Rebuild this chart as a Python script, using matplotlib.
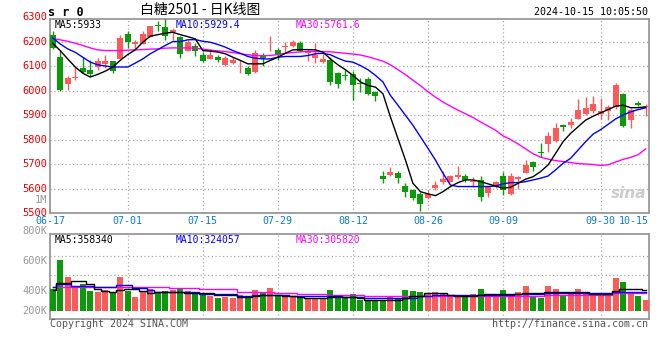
import matplotlib
matplotlib.use("Agg")
import matplotlib.pyplot as plt
import pandas as pd

# trading days shown (80 sessions)
holidays = ["2024-09-16", "2024-09-17", "2024-10-01", "2024-10-02", "2024-10-03",
            "2024-10-04", "2024-10-07"]
days = pd.bdate_range("2024-06-17", "2024-10-15")
days = days[~days.isin(pd.to_datetime(holidays))]
tick_idx = [0, 10, 20, 30, 40, 50, 60, 73, 79]

opens = [6227, 6136, 6028, 6050, 6091, 6083, 6098, 6109, 6120, 6129,
         6231, 6190, 6190, 6220, 6269, 6261, 6238, 6220, 6163, 6181,
         6147, 6128, 6136, 6105, 6113, 6103, 6093, 6075, 6140, 6172,
         6166, 6178, 6182, 6193, 6155, 6133, 6116, 6125, 6071, 6064,
         6066, 6030, 6046, 5994, 5651, 5654, 5665, 5611, 5594, 5578,
         5560, 5601, 5625, 5628, 5648, 5651, 5626, 5635, 5580, 5608,
         5651, 5578, 5637, 5665, 5709, 5750, 5780, 5795, 5859, 5859,
         5885, 5906, 5915, 5906, 5915, 5933, 5985, 5881, 5949, 5932]
highs = [6242, 6162, 6058, 6098, 6136, 6123, 6133, 6147, 6122, 6227,
         6242, 6207, 6242, 6265, 6283, 6292, 6255, 6222, 6208, 6193,
         6156, 6170, 6147, 6139, 6135, 6123, 6102, 6166, 6152, 6224,
         6174, 6197, 6208, 6201, 6170, 6193, 6150, 6135, 6075, 6082,
         6079, 6050, 6055, 6000, 5673, 5689, 5672, 5624, 5600, 5587,
         5594, 5632, 5673, 5656, 5692, 5659, 5648, 5651, 5610, 5630,
         5669, 5662, 5650, 5716, 5712, 5787, 5831, 5868, 5862, 5889,
         5964, 5974, 5978, 5970, 5940, 6030, 5990, 5929, 5957, 5944]
lows = [6170, 6000, 6003, 6044, 6072, 6058, 6085, 6093, 6072, 6129,
        6174, 6170, 6190, 6220, 6245, 6207, 6207, 6132, 6163, 6139,
        6116, 6128, 6116, 6101, 6109, 6071, 6064, 6070, 6102, 6163,
        6123, 6159, 6178, 6156, 6119, 6113, 6113, 6024, 6011, 6044,
        5963, 5994, 5980, 5956, 5624, 5651, 5621, 5567, 5554, 5510,
        5556, 5594, 5620, 5626, 5637, 5626, 5608, 5547, 5564, 5601,
        5574, 5575, 5597, 5663, 5673, 5730, 5750, 5790, 5834, 5849,
        5885, 5902, 5910, 5885, 5879, 5925, 5852, 5845, 5935, 5898]
closes = [6173, 6003, 6051, 6055, 6075, 6067, 6119, 6120, 6078, 6213,
          6197, 6200, 6231, 6262, 6263, 6224, 6249, 6150, 6200, 6163,
          6120, 6144, 6125, 6133, 6125, 6105, 6068, 6152, 6133, 6174,
          6146, 6180, 6197, 6163, 6163, 6147, 6129, 6035, 6028, 6060,
          6024, 6028, 5987, 5978, 5637, 5668, 5641, 5587, 5560, 5537,
          5576, 5615, 5637, 5652, 5655, 5635, 5628, 5567, 5605, 5625,
          5594, 5652, 5648, 5696, 5689, 5743, 5815, 5848, 5852, 5872,
          5919, 5929, 5944, 5915, 5933, 6021, 5856, 5919, 5940, 5934]

ma5 = [6193, 6163, 6129, 6096, 6071, 6055, 6066, 6079, 6096, 6123,
       6147, 6166, 6197, 6222, 6228, 6234, 6238, 6228, 6220, 6211,
       6163, 6161, 6157, 6150, 6136, 6123, 6109, 6109, 6109, 6123,
       6136, 6152, 6166, 6167, 6167, 6166, 6157, 6129, 6105, 6085,
       6062, 6035, 6021, 6014, 5987, 5892, 5804, 5716, 5621, 5587,
       5578, 5571, 5587, 5608, 5624, 5635, 5635, 5628, 5619, 5610,
       5601, 5605, 5621, 5638, 5648, 5669, 5696, 5743, 5791, 5825,
       5852, 5879, 5895, 5909, 5922, 5936, 5940, 5930, 5930, 5933]
ma10 = [6215, 6190, 6170, 6156, 6136, 6116, 6105, 6100, 6096, 6096,
        6096, 6112, 6129, 6150, 6167, 6184, 6200, 6200, 6207, 6208,
        6201, 6197, 6188, 6177, 6163, 6152, 6139, 6132, 6129, 6129,
        6136, 6139, 6139, 6139, 6143, 6150, 6152, 6146, 6132, 6120,
        6116, 6102, 6085, 6062, 6035, 5980, 5940, 5899, 5858, 5811,
        5764, 5716, 5662, 5614, 5608, 5608, 5608, 5608, 5608, 5610,
        5619, 5624, 5624, 5628, 5635, 5642, 5651, 5676, 5703, 5723,
        5757, 5791, 5822, 5840, 5862, 5884, 5900, 5913, 5922, 5929.4]
ma30 = [6212, 6207, 6201, 6193, 6184, 6174, 6166, 6163, 6163, 6163,
        6165, 6166, 6167, 6169, 6170, 6173, 6174, 6174, 6174, 6173,
        6169, 6165, 6162, 6159, 6155, 6150, 6146, 6143, 6142, 6143,
        6147, 6152, 6155, 6158, 6159, 6159, 6159, 6158, 6155, 6152,
        6149, 6145, 6138, 6129, 6120, 6105, 6085, 6065, 6042, 6020,
        5995, 5973, 5953, 5936, 5920, 5905, 5890, 5872, 5855, 5838,
        5815, 5800, 5782, 5762, 5742, 5728, 5720, 5714, 5710, 5706,
        5702, 5700, 5698, 5694, 5697, 5708, 5719, 5727, 5738, 5761.6]

# volume in thousands of lots
volume = [370, 879, 578, 428, 462, 341, 329, 358, 312, 578,
          341, 231, 347, 370, 301, 341, 358, 399, 341, 312,
          272, 260, 220, 243, 225, 272, 243, 358, 312, 387,
          272, 260, 260, 260, 225, 225, 225, 358, 254, 225,
          289, 185, 168, 185, 185, 260, 225, 358, 341, 324,
          306, 324, 306, 272, 260, 243, 289, 376, 289, 260,
          358, 289, 324, 428, 254, 225, 428, 376, 254, 289,
          376, 289, 289, 272, 260, 566, 497, 324, 254, 185]
vma5 = [358, 474, 486, 520, 520, 462, 370, 341, 329, 358,
        370, 370, 341, 312, 318, 318, 318, 318, 312, 312,
        301, 301, 272, 272, 272, 243, 243, 260, 272, 272,
        272, 260, 254, 243, 225, 225, 225, 243, 254, 243,
        243, 214, 185, 185, 185, 185, 185, 214, 254, 254,
        301, 301, 301, 272, 260, 260, 260, 272, 283, 283,
        283, 283, 283, 301, 301, 301, 329, 329, 329, 318,
        318, 318, 289, 289, 289, 335, 377, 384, 380, 358.3]
vma10 = [416, 462, 462, 428, 428, 428, 416, 416, 416, 439,
         439, 387, 387, 358, 329, 329, 329, 329, 318, 318,
         289, 289, 289, 289, 289, 260, 260, 266, 266, 266,
         266, 266, 254, 254, 254, 254, 254, 250, 243, 243,
         243, 243, 225, 225, 225, 225, 225, 225, 225, 254,
         254, 266, 266, 266, 266, 266, 266, 272, 272, 272,
         272, 272, 289, 289, 289, 289, 301, 301, 301, 301,
         301, 301, 301, 301, 301, 324, 324, 324, 324, 324.1]
vma30 = [405, 416, 416, 416, 416, 416, 416, 416, 416, 416,
         405, 405, 405, 405, 405, 405, 399, 399, 399, 399,
         370, 370, 370, 370, 370, 329, 329, 329, 329, 329,
         312, 312, 312, 283, 283, 283, 283, 280, 272, 272,
         272, 272, 260, 260, 260, 260, 260, 260, 260, 260,
         260, 254, 254, 254, 254, 254, 254, 254, 254, 254,
         254, 254, 254, 254, 254, 254, 272, 272, 272, 272,
         272, 272, 272, 272, 272, 301, 301, 301, 301, 305.8]

UP = "#ff5a5a"
DOWN = "#0a9a0a"
GRID = "#aaaaaa"
EDGE = "#999999"
MONO = "DejaVu Sans Mono"

fig = plt.figure(figsize=(6.6, 3.6), dpi=100)
ax = fig.add_axes([50 / 660, 1 - 213 / 360, 599 / 660, 194 / 360])
axv = fig.add_axes([50 / 660, 1 - 319 / 360, 599 / 660, 85 / 360])

x = list(range(len(closes)))
colors = [UP if c >= o else DOWN for o, c in zip(opens, closes)]

# candles
ax.vlines(x, lows, highs, colors=colors, linewidth=1, zorder=3)
bottoms = [min(o, c) for o, c in zip(opens, closes)]
heights = [max(abs(c - o), 3) for o, c in zip(opens, closes)]
ax.bar(x, heights, bottom=bottoms, width=0.8, color=colors, linewidth=0, zorder=4)

ax.plot(x, ma30, color="#ff00ff", lw=1, zorder=5)
ax.plot(x, ma10, color="#0000ff", lw=1, zorder=5)
ax.plot(x, ma5, color="#000000", lw=1, zorder=5)

ax.set_xlim(-0.36, 79.45)
ax.set_ylim(5500, 6292)

# volume
axv.bar(x, volume, width=0.8, color=colors, linewidth=0, zorder=3)
axv.plot(x, vma30, color="#ff00ff", lw=1, drawstyle="steps-mid", zorder=4)
axv.plot(x, vma10, color="#0000ff", lw=1, drawstyle="steps-mid", zorder=4)
axv.plot(x, vma5, color="#000000", lw=1, drawstyle="steps-mid", zorder=4)
axv.set_xlim(-0.36, 79.45)
axv.set_ylim(-144, 1330)

for a in (ax, axv):
    a.set_xticks([])
    a.set_yticks([])
    for s in a.spines.values():
        s.set_color(EDGE)
        s.set_linewidth(1.3)
    for i in tick_idx[1:-1]:
        a.axvline(i, color=GRID, lw=0.9, ls=(0, (1, 2)), zorder=1)

for p in range(5600, 6300, 100):
    ax.axhline(p, color=GRID, lw=0.9, ls=(0, (1, 2)), zorder=1)
for v in (619, 954):
    axv.axhline(v, color=GRID, lw=0.9, ls=(0, (1, 2)), zorder=1)

# price labels
ytr = ax.get_yaxis_transform()
for p in range(5500, 6301, 100):
    ax.text(-0.005, p, str(p), transform=ytr, ha="right", va="center",
            color="#ee0000", fontsize=7.5, family=MONO, clip_on=False)

# date labels
xtr = ax.get_xaxis_transform()
for i in tick_idx:
    ha = "center"
    xp = i
    if i == 0:
        xp = -0.36
    if i == tick_idx[-1]:
        xp, ha = 79.45, "right"
    ax.text(xp, -0.016, days[i].strftime("%m-%d"), transform=xtr, ha=ha, va="top",
            color="#0a7ad2", fontsize=7.2, family=MONO)

# grey volume labels
for txt, yp in [("1M", 200), ("800K", 231), ("600K", 260.7), ("400K", 290.7), ("200K", 310.7)]:
    fig.text(47 / 660, 1 - yp / 360, txt, ha="right", va="center", color="#999999",
             fontsize=7.5, family=MONO)

# legends inside panels
ax.text(0.007, 0.995, "MA5:%d" % ma5[-1], transform=ax.transAxes, va="top", ha="left",
        fontsize=7, family=MONO, color="black")
ax.text(0.21, 0.995, "MA10:%.1f" % ma10[-1], transform=ax.transAxes, va="top", ha="left",
        fontsize=7, family=MONO, color="#0000ff")
ax.text(0.41, 0.995, "MA30:%.1f" % ma30[-1], transform=ax.transAxes, va="top", ha="left",
        fontsize=7, family=MONO, color="#ff00ff")
axv.text(0.007, 0.985, "MA5:358340", transform=axv.transAxes, va="top", ha="left",
         fontsize=7, family=MONO, color="black")
axv.text(0.21, 0.985, "MA10:324057", transform=axv.transAxes, va="top", ha="left",
         fontsize=7, family=MONO, color="#0000ff")
axv.text(0.41, 0.985, "MA30:305820", transform=axv.transAxes, va="top", ha="left",
         fontsize=7, family=MONO, color="#ff00ff")

# header
fig.text(48 / 660, 1 - 12 / 360, "s r 0", ha="left", va="center", fontsize=8.5,
         family=MONO, weight="bold")
fig.text(200 / 660, 1 - 10 / 360, "白糖2501 - 日K线图", ha="center", va="center",
         fontsize=10, family=["Noto Sans CJK SC", "DejaVu Sans"])
fig.text(648 / 660, 1 - 12 / 360, "2024-10-15 10:05:50", ha="right", va="center",
         fontsize=7.2, family=MONO)

# watermark and footer
ax.text(0.995, 0.06, "sina", transform=ax.transAxes, ha="right", va="bottom",
        fontsize=11, style="italic", weight="bold", color="#cccccc", zorder=2)
fig.text(50 / 660, 1 - 324 / 360, "Copyright 2024 SINA.COM", ha="left", va="center",
         fontsize=7.2, family=MONO, color="#555555")
fig.text(648 / 660, 1 - 324 / 360, "http://finance.sina.com.cn", ha="right", va="center",
         fontsize=7.2, family=MONO, color="#555555")

fig.savefig("out.png", dpi=100)
